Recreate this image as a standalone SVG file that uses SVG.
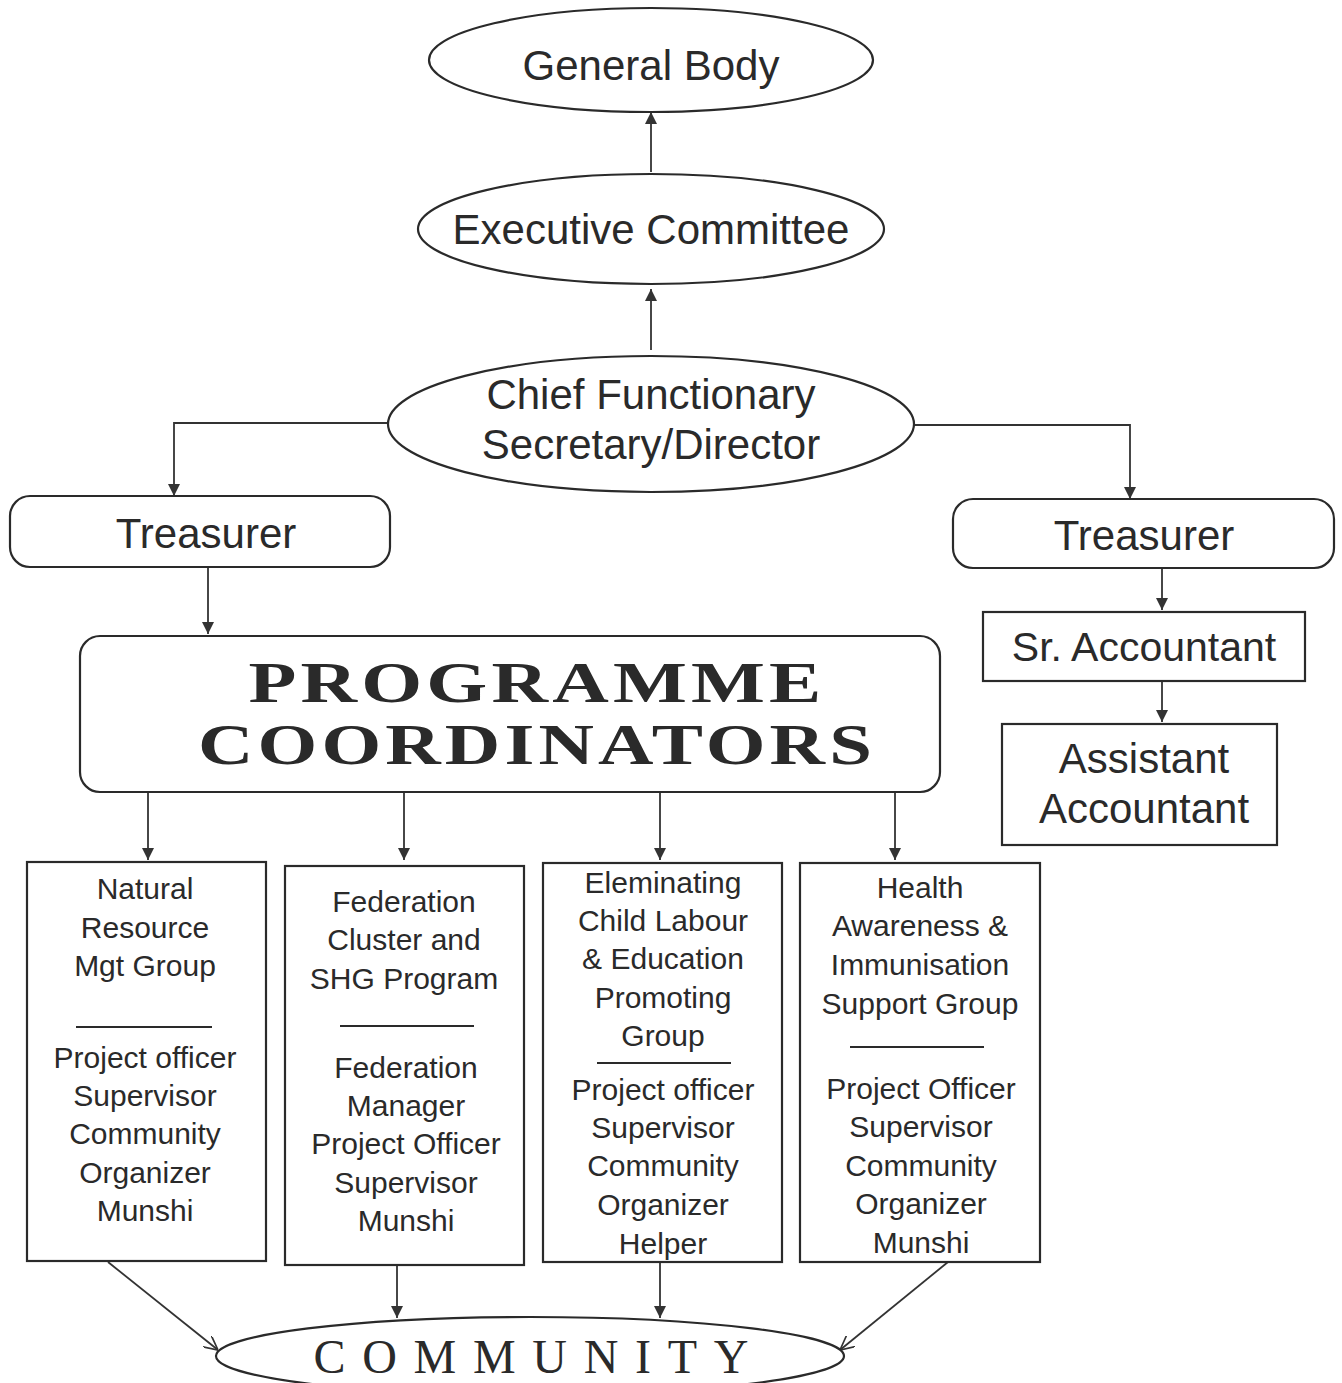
<svg xmlns="http://www.w3.org/2000/svg" width="1342" height="1383" viewBox="0 0 1342 1383">
<style>
.s{fill:#fff;stroke:#2a2a2a;stroke-width:2.2}
.t{font-family:"Liberation Sans",Arial,sans-serif;fill:#2a2a2a;text-anchor:middle}
.big{font-size:42px}
.sm{font-size:30px}
.c{stroke:#333;stroke-width:1.8;fill:none}
.dv{stroke:#2a2a2a;stroke-width:2}
.pc{font-family:"Liberation Serif","Times New Roman",serif;font-weight:bold;font-size:56px;fill:#2a2a2a;text-anchor:middle;letter-spacing:3px}
</style>
<defs>
<marker id="a" markerWidth="12" markerHeight="12" refX="10" refY="5" orient="auto" markerUnits="userSpaceOnUse" viewBox="0 0 10 10">
<path d="M0,0 L10,5 L0,10 z" fill="#333"/>
</marker>
<marker id="o" markerWidth="14" markerHeight="14" refX="10" refY="5" orient="auto" markerUnits="userSpaceOnUse" viewBox="0 0 10 10">
<path d="M0,0 L10,5 L0,10" fill="none" stroke="#333" stroke-width="1.2"/>
</marker>
</defs>
<rect width="1342" height="1383" fill="#fff"/>
<g id="connectors">
<line class="c" x1="651" y1="172" x2="651" y2="112" marker-end="url(#a)"/>
<line class="c" x1="651" y1="350" x2="651" y2="289" marker-end="url(#a)"/>
<polyline class="c" points="388,423 174,423 174,496" marker-end="url(#a)"/>
<polyline class="c" points="914,425 1130,425 1130,499" marker-end="url(#a)"/>
<line class="c" x1="208" y1="567" x2="208" y2="634" marker-end="url(#a)"/>
<line class="c" x1="1162" y1="568" x2="1162" y2="610" marker-end="url(#a)"/>
<line class="c" x1="1162" y1="681" x2="1162" y2="722" marker-end="url(#a)"/>
<line class="c" x1="148" y1="792" x2="148" y2="860" marker-end="url(#a)"/>
<line class="c" x1="404" y1="792" x2="404" y2="860" marker-end="url(#a)"/>
<line class="c" x1="660" y1="792" x2="660" y2="860" marker-end="url(#a)"/>
<line class="c" x1="895" y1="792" x2="895" y2="860" marker-end="url(#a)"/>
<line class="c" x1="108" y1="1262" x2="218" y2="1350" marker-end="url(#o)"/>
<line class="c" x1="397" y1="1265" x2="397" y2="1318" marker-end="url(#a)"/>
<line class="c" x1="660" y1="1262" x2="660" y2="1318" marker-end="url(#a)"/>
<line class="c" x1="948" y1="1262" x2="840" y2="1350" marker-end="url(#o)"/>
</g>
<g id="general-body">
<ellipse class="s" cx="651" cy="60" rx="222" ry="52"/>
<text class="t big" x="651" y="80">General Body</text>
</g>
<g id="executive-committee">
<ellipse class="s" cx="651" cy="229" rx="233" ry="55"/>
<text class="t big" x="651" y="244">Executive Committee</text>
</g>
<g id="chief-functionary">
<ellipse class="s" cx="651" cy="424" rx="263" ry="68"/>
<text class="t big" x="651" y="409">Chief Functionary</text>
<text class="t big" x="651" y="459">Secretary/Director</text>
</g>
<g id="treasurer-left">
<rect class="s" x="10" y="496" width="380" height="71" rx="20"/>
<text class="t big" x="206" y="548">Treasurer</text>
</g>
<g id="treasurer-right">
<rect class="s" x="953" y="499" width="381" height="69" rx="20"/>
<text class="t big" x="1144" y="550">Treasurer</text>
</g>
<g id="sr-accountant">
<rect class="s" x="983" y="612" width="322" height="69"/>
<text class="t" font-size="41" x="1144" y="661">Sr. Accountant</text>
</g>
<g id="assistant-accountant">
<rect class="s" x="1002" y="724" width="275" height="121"/>
<text class="t big" x="1144" y="773">Assistant</text>
<text class="t big" x="1144" y="823">Accountant</text>
</g>
<g id="programme-coordinators">
<rect class="s" x="80" y="636" width="860" height="156" rx="20"/>
<text class="pc" x="537" y="702" textLength="577" lengthAdjust="spacingAndGlyphs">PROGRAMME</text>
<text class="pc" x="537" y="764" textLength="678" lengthAdjust="spacingAndGlyphs">COORDINATORS</text>
</g>
<g id="natural-resource">
<rect class="s" x="27" y="862" width="239" height="399"/>
<text class="t sm" x="145" y="899">Natural</text>
<text class="t sm" x="145" y="938">Resource</text>
<text class="t sm" x="145" y="976">Mgt Group</text>
<line class="dv" x1="76" y1="1027" x2="212" y2="1027"/>
<text class="t sm" x="145" y="1068">Project officer</text>
<text class="t sm" x="145" y="1106">Supervisor</text>
<text class="t sm" x="145" y="1144">Community</text>
<text class="t sm" x="145" y="1183">Organizer</text>
<text class="t sm" x="145" y="1221">Munshi</text>
</g>
<g id="federation">
<rect class="s" x="285" y="866" width="239" height="399"/>
<text class="t sm" x="404" y="912">Federation</text>
<text class="t sm" x="404" y="950">Cluster and</text>
<text class="t sm" x="404" y="989">SHG Program</text>
<line class="dv" x1="340" y1="1026" x2="474" y2="1026"/>
<text class="t sm" x="406" y="1078">Federation</text>
<text class="t sm" x="406" y="1116">Manager</text>
<text class="t sm" x="406" y="1154">Project Officer</text>
<text class="t sm" x="406" y="1193">Supervisor</text>
<text class="t sm" x="406" y="1231">Munshi</text>
</g>
<g id="child-labour">
<rect class="s" x="543" y="863" width="239" height="399"/>
<text class="t sm" x="663" y="893">Eleminating</text>
<text class="t sm" x="663" y="931">Child Labour</text>
<text class="t sm" x="663" y="969">&amp; Education</text>
<text class="t sm" x="663" y="1008">Promoting</text>
<text class="t sm" x="663" y="1046">Group</text>
<line class="dv" x1="597" y1="1063" x2="731" y2="1063"/>
<text class="t sm" x="663" y="1100">Project officer</text>
<text class="t sm" x="663" y="1138">Supervisor</text>
<text class="t sm" x="663" y="1176">Community</text>
<text class="t sm" x="663" y="1215">Organizer</text>
<text class="t sm" x="663" y="1254">Helper</text>
</g>
<g id="health">
<rect class="s" x="800" y="863" width="240" height="399"/>
<text class="t sm" x="920" y="898">Health</text>
<text class="t sm" x="920" y="936">Awareness &amp;</text>
<text class="t sm" x="920" y="975">Immunisation</text>
<text class="t sm" x="920" y="1014">Support Group</text>
<line class="dv" x1="850" y1="1047" x2="984" y2="1047"/>
<text class="t sm" x="921" y="1099">Project Officer</text>
<text class="t sm" x="921" y="1137">Supervisor</text>
<text class="t sm" x="921" y="1176">Community</text>
<text class="t sm" x="921" y="1214">Organizer</text>
<text class="t sm" x="921" y="1253">Munshi</text>
</g>
<g id="community">
<ellipse class="s" cx="530" cy="1356" rx="314" ry="39"/>
<text x="531" y="1373" font-family="'Liberation Serif','Times New Roman',serif" font-size="48" fill="#2a2a2a" text-anchor="middle" textLength="435" lengthAdjust="spacing">COMMUNITY</text>
</g>
</svg>
